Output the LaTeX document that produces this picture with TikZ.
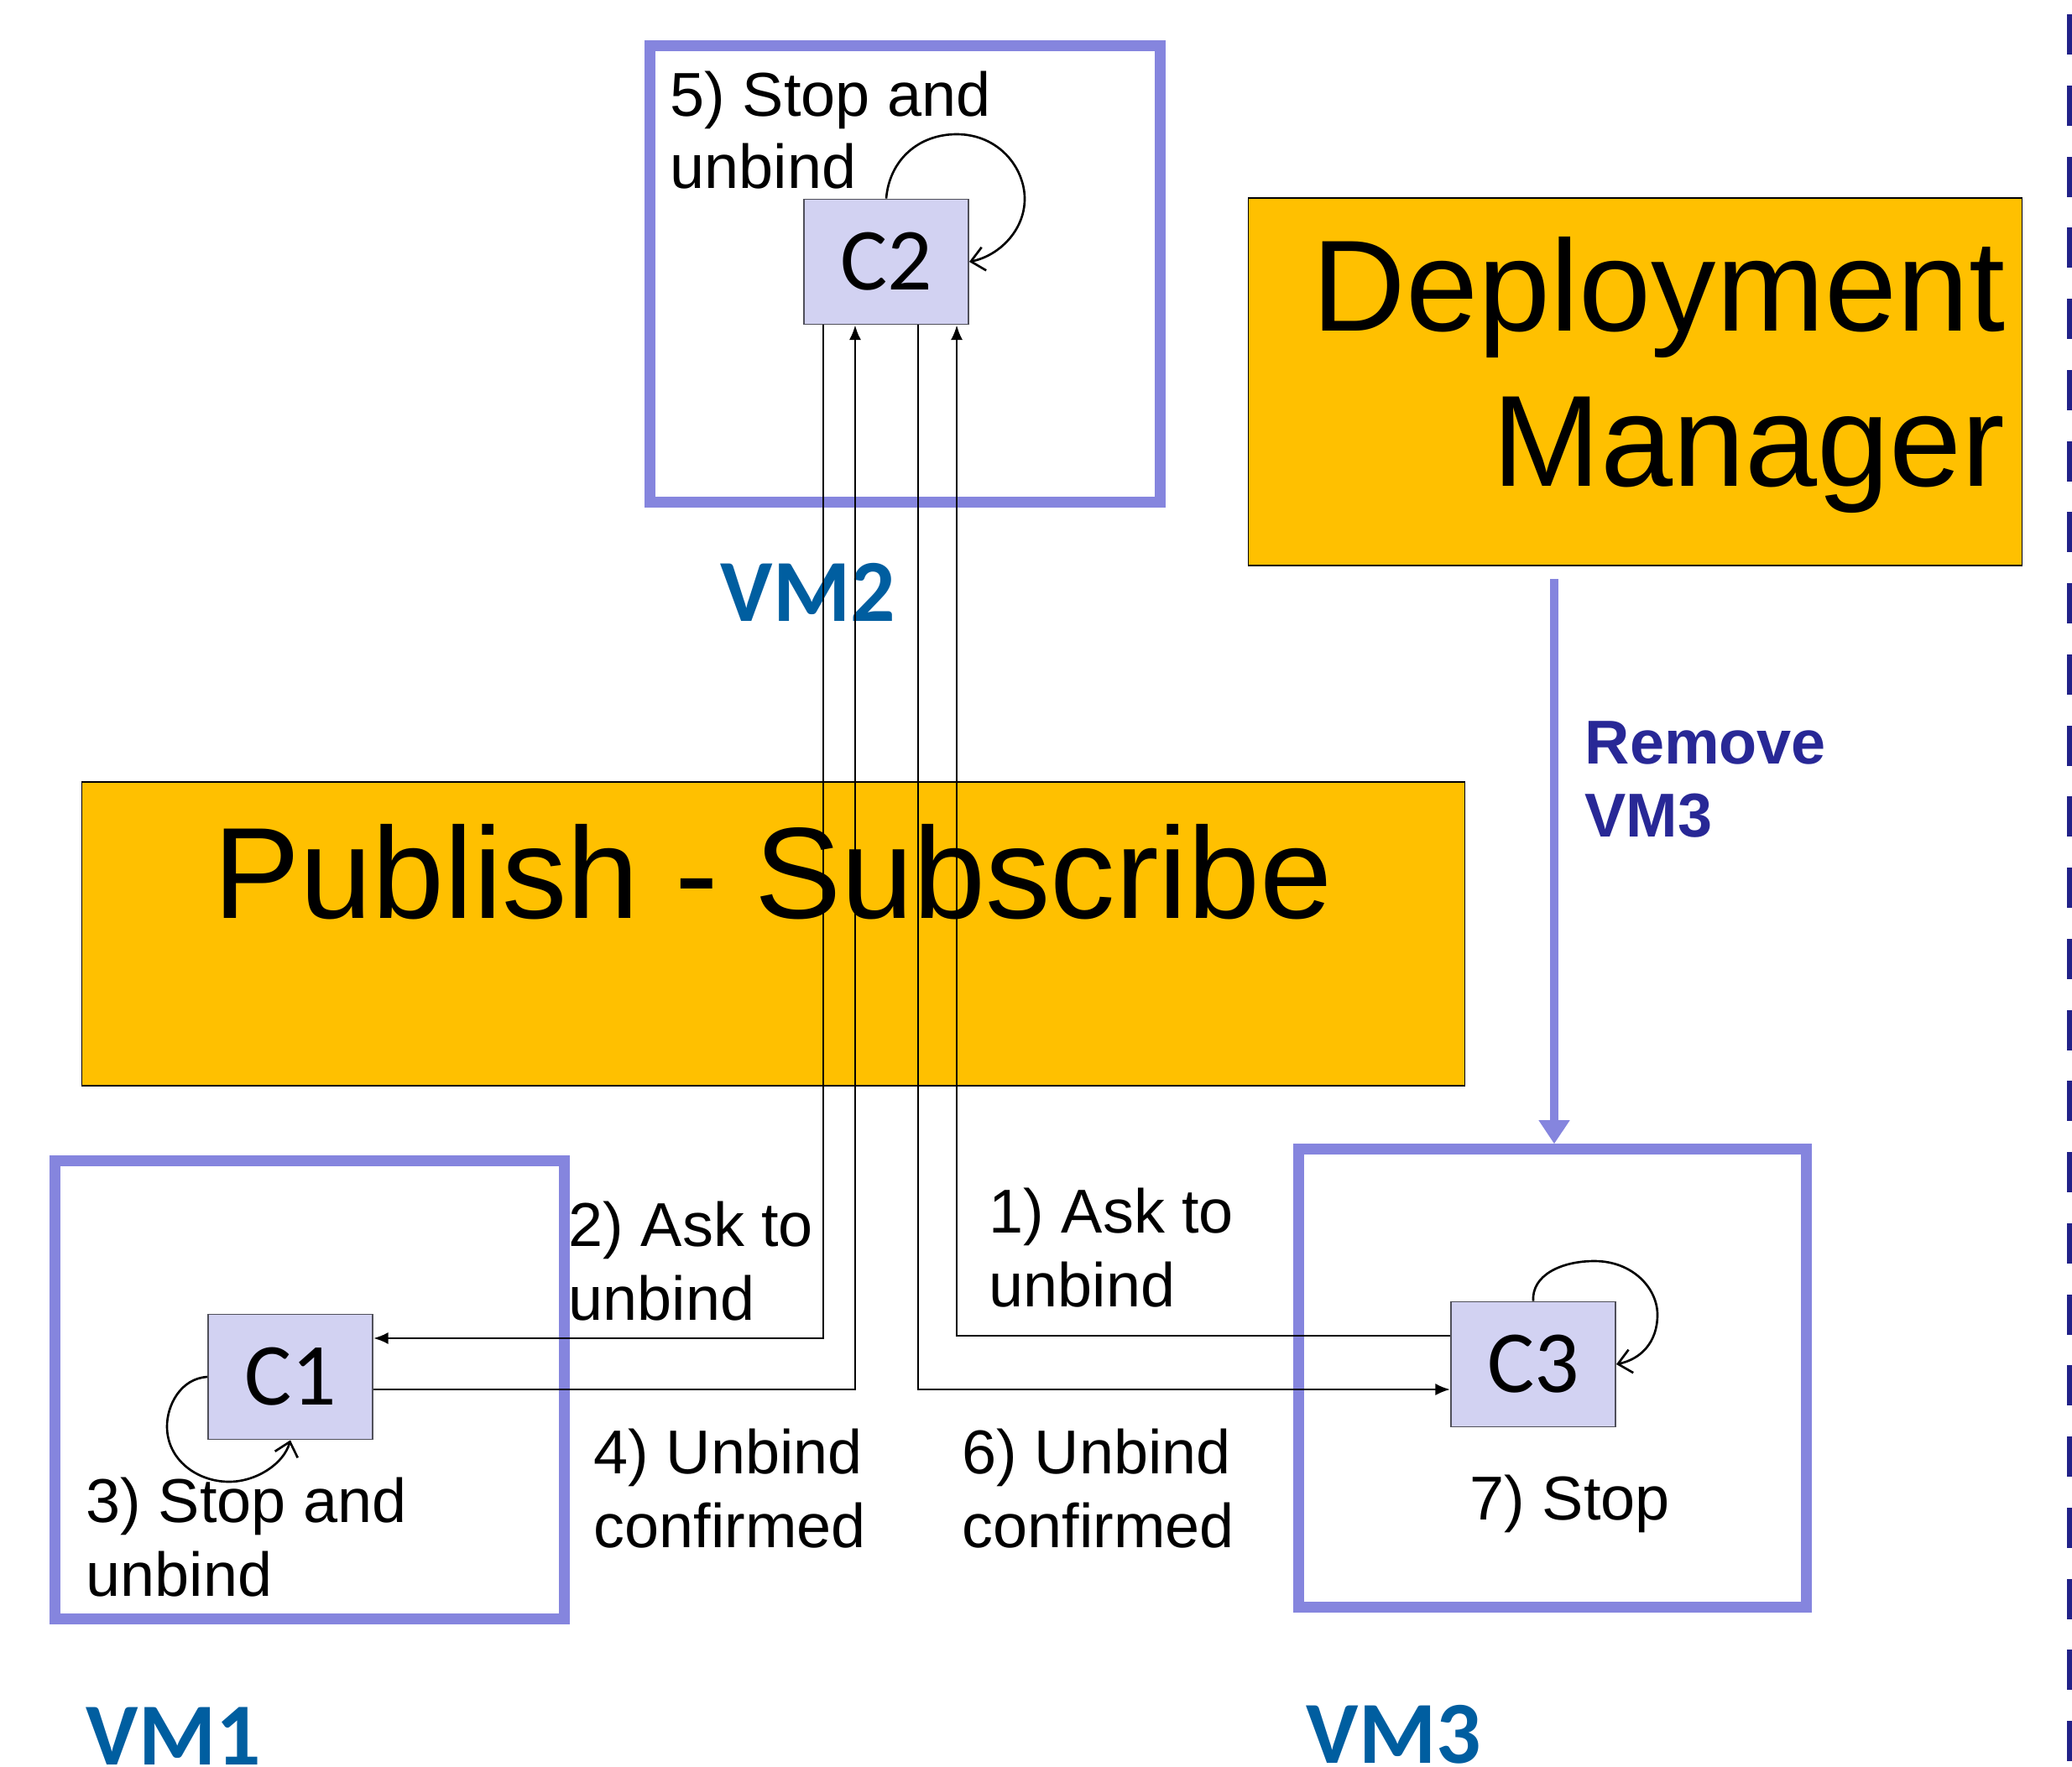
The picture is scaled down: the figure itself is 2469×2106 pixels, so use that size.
\documentclass[tikz,border=0pt]{standalone}
\usepackage{fontspec}
\setmainfont{Liberation Sans}
\newfontfamily\carlito{Carlito}
\usetikzlibrary{arrows.meta}
\definecolor{vmline}{RGB}{133,133,222}
\definecolor{compfill}{RGB}{210,210,242}
\definecolor{compline}{RGB}{80,80,90}
\definecolor{orangefill}{RGB}{255,192,0}
\definecolor{vmlabel}{RGB}{0,94,160}
\definecolor{removeblue}{RGB}{40,40,150}
\definecolor{dashblue}{RGB}{34,34,136}
\tikzset{
  vmbox/.style={draw=vmline, line width=3.7pt, inner sep=0pt},
  comp/.style={draw=compline, line width=0.5pt, fill=compfill, inner sep=0pt,
    minimum width=1.96cm, minimum height=1.49cm,
    font=\carlito\fontsize{30}{36}\selectfont},
  orangebox/.style={draw=black, line width=0.4pt, fill=orangefill, inner sep=0pt},
  bigtxt/.style={inner sep=0pt, font=\fontsize{44}{52}\selectfont},
  lbl/.style={inner sep=0pt, anchor=base west, font=\fontsize{21}{25}\selectfont},
  vmlbl/.style={inner sep=0pt, anchor=base west, text=vmlabel,
    font=\carlito\bfseries\fontsize{30}{36}\selectfont},
  removelbl/.style={inner sep=0pt, anchor=base west, text=removeblue,
    font=\bfseries\fontsize{21}{25}\selectfont},
  conn/.style={draw=black, line width=0.75pt, -{Latex[length=5pt,width=4pt]}},
  selfloop/.style={draw=black, line width=0.75pt, -{Straight Barb[length=4.5pt,width=8pt]}},
  dmarrow/.style={draw=vmline, line width=3.1pt, -{Triangle[length=8pt,width=10pt]}},
  dashline/.style={draw=dashblue, line width=3.4pt, dash pattern=on 13.66pt off 10.44pt}
}
\begin{document}
\begin{tikzpicture}[x=0.01cm,y=-0.01cm]
\useasboundingbox (0,0) rectangle (2469,2106);
\clip (0,0) rectangle (2469,2106);
\fill[white] (0,0) rectangle (2469,2106);

% right dashed line
\coordinate (dtop) at (2469,17);
\coordinate (dbot) at (2469,2106);
\draw[dashline] (dtop) -- (dbot);

% orange boxes
\node[orangebox, minimum width=9.21cm, minimum height=4.38cm] (DM) at (1948.5,455) {};
\node[bigtxt, anchor=base east] (dmt1) at (2390,394) {Deployment};
\node[bigtxt, anchor=base east] (dmt2) at (2390,579) {Manager};

\node[orangebox, minimum width=16.47cm, minimum height=3.62cm] (PS) at (921.5,1113) {};
\node[bigtxt, anchor=base] (pst) at (921,1094) {Publish - Subscribe};

% VM boxes
\node[vmbox, minimum width=6.07cm, minimum height=5.43cm] (VM2) at (1078.5,326.5) {};
\node[vmbox, minimum width=6.06cm, minimum height=5.45cm] (VM1) at (369,1656.5) {};
\node[vmbox, minimum width=6.04cm, minimum height=5.45cm] (VM3) at (1850,1642.5) {};

% components
\node[comp] (C2) at (1056,312) {C2};
\node[comp] (C1) at (346,1641) {C1};
\node[comp] (C3) at (1827,1626) {C3};

% labels
\node[lbl] (l5a) at (798,139) {5) Stop and};
\node[lbl] (l5b) at (798,225) {unbind};
\node[lbl] (l2a) at (677,1485) {2) Ask to};
\node[lbl] (l2b) at (677,1573) {unbind};
\node[lbl] (l1a) at (1178,1469) {1) Ask to};
\node[lbl] (l1b) at (1178,1557) {unbind};
\node[lbl] (l4a) at (707,1756) {4) Unbind};
\node[lbl] (l4b) at (707,1844) {confirmed};
\node[lbl] (l6a) at (1146,1756) {6) Unbind};
\node[lbl] (l6b) at (1146,1844) {confirmed};
\node[lbl] (l3a) at (102,1814) {3) Stop and};
\node[lbl] (l3b) at (102,1902) {unbind};
\node[lbl] (l7) at (1751,1811) {7) Stop};

\node[removelbl] (rm1) at (1888,910) {Remove};
\node[removelbl] (rm2) at (1888,997) {VM3};

\node[vmlbl] (vm2l) at (858,740) {VM2};
\node[vmlbl] (vm1l) at (102,2103) {VM1};
\node[vmlbl] (vm3l) at (1556,2101) {VM3};

% deployment manager arrow
\coordinate (dmstart) at (1852,690);
\draw[dmarrow] (dmstart) -- (dmstart |- VM3.north);

% connectors
\draw[conn] ([yshift=0.34cm]C3.west) -| ([xshift=0.84cm]C2.south);
\draw[conn] ([xshift=-0.75cm]C2.south) |- ([yshift=0.46cm]C1.east);
\draw[conn] ([yshift=-0.15cm]C1.east) -| ([xshift=-0.37cm]C2.south);
\draw[conn] ([xshift=0.38cm]C2.south) |- ([yshift=-0.30cm]C3.west);

% self loops
\draw[selfloop] (C2.north) .. controls (1060,190) and (1095,160) .. (1140,160)
  .. controls (1190,160) and (1221,200) .. (1221,237)
  .. controls (1221,275) and (1190,305) .. (C2.east);
\draw[selfloop] (C1.west) .. controls (215,1643) and (199,1675) .. (199,1700)
  .. controls (199,1740) and (235,1766) .. (273,1766)
  .. controls (305,1766) and (338,1745) .. (C1.south);
\draw[selfloop] (C3.north) .. controls (1825,1520) and (1860,1503) .. (1900,1503)
  .. controls (1945,1503) and (1975,1535) .. (1975,1567)
  .. controls (1975,1600) and (1955,1620) .. (C3.east);
\end{tikzpicture}
\end{document}
